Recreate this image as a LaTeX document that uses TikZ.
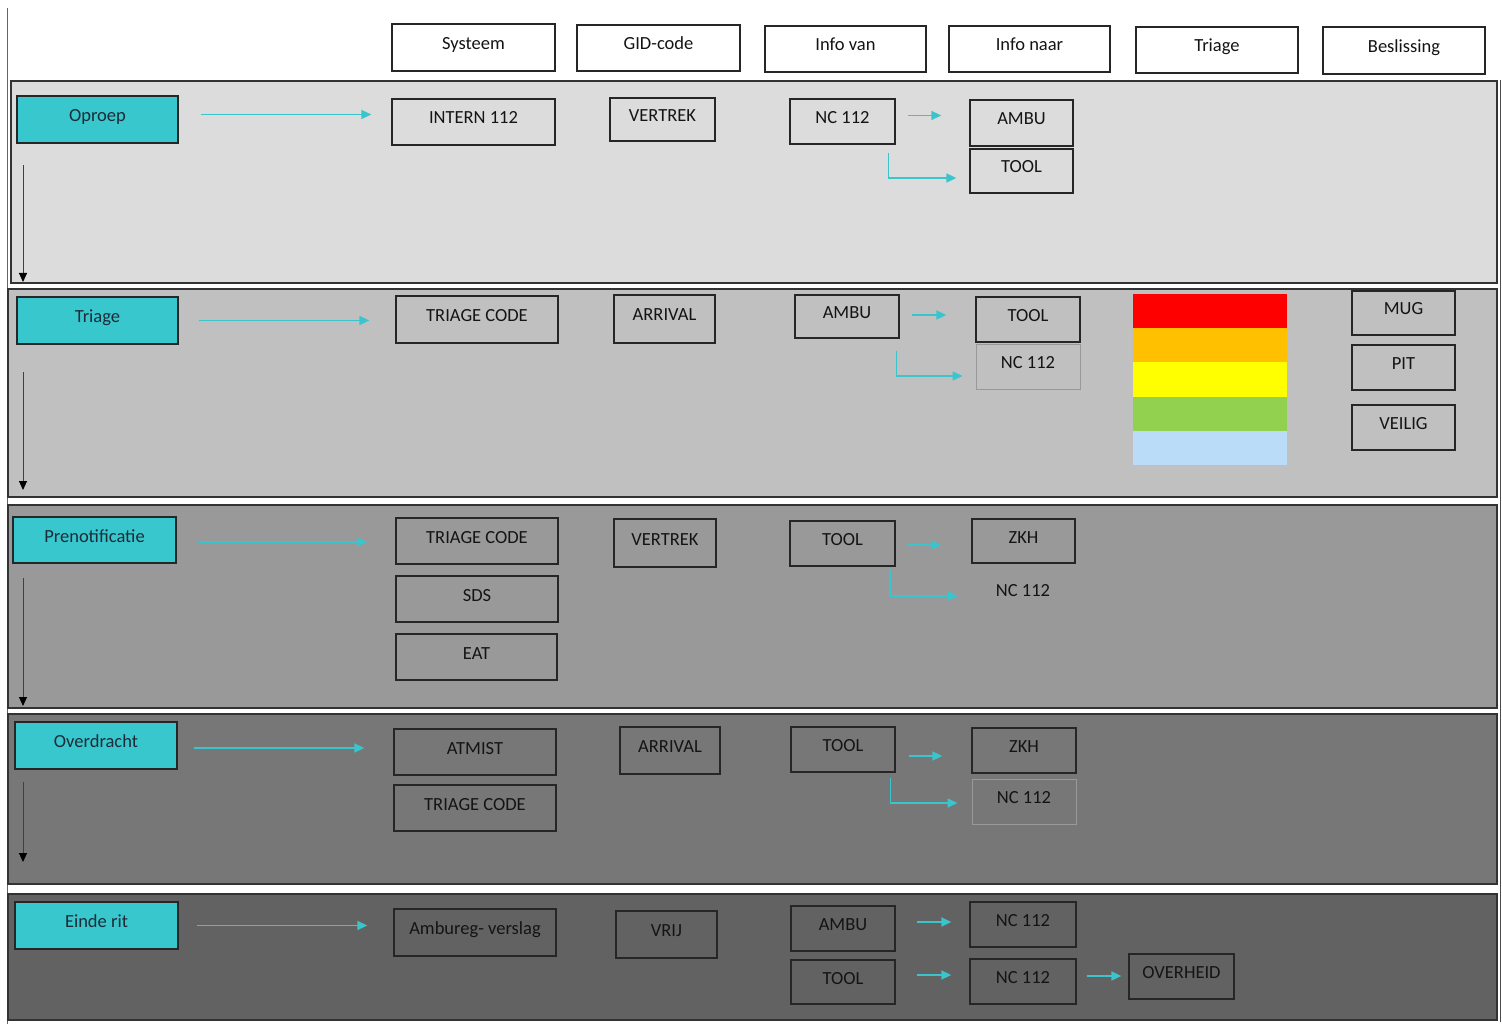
\documentclass[tikz,border=0pt]{standalone}
\usepackage{fontspec}
\setmainfont{Carlito}
\usetikzlibrary{arrows.meta,calc}
\definecolor{cyanbox}{HTML}{38C7CD}
\definecolor{cyarrow}{HTML}{3CC4CC}
\definecolor{phasetext}{HTML}{1E2B38}
\definecolor{bandA}{HTML}{DCDCDC}
\definecolor{bandB}{HTML}{C0C0C0}
\definecolor{bandC}{HTML}{999999}
\definecolor{bandD}{HTML}{777777}
\definecolor{bandE}{HTML}{626262}
\definecolor{tRed}{HTML}{FF0000}
\definecolor{tOrange}{HTML}{FFC000}
\definecolor{tYellow}{HTML}{FFFF00}
\definecolor{tGreen}{HTML}{92D050}
\definecolor{tBlue}{HTML}{BBDCF8}
\tikzset{
  labeltext/.style={font=\fontsize{18.5}{21}\selectfont,text=black!92,text height=11.5pt,text depth=7.5pt,inner sep=0pt},
  plainbox/.style={labeltext,draw=black!85,line width=1.3pt},
  headbox/.style={plainbox,fill=white},
  phasebox/.style={plainbox,fill=cyanbox,text=phasetext},
  faintbox/.style={plainbox,draw=black!40,line width=1pt},
  cy/.style={draw=cyarrow,line width=1.6pt,-{Triangle[length=10pt,width=9pt]}},
  downarr/.style={draw=black!75,line width=1pt,-{Triangle[length=9pt,width=8pt,color=black]}},
  band/.style={draw=black!80,line width=1.3pt},
}
\newcommand{\bx}[7][plainbox]{\node[#1,minimum width={(#5-#3)*1pt},minimum height={(#6-#4)*1pt}] (#2) at ({(#3+#5)/2},{(#4+#6)/2}) {#7};}
\begin{document}
\begin{tikzpicture}[x=1pt,y=-1pt]
\useasboundingbox (0,0) rectangle (1502,1024);
\fill[white] (0,0) rectangle (1502,1024);
% frame lines
\draw[black!60,line width=0.8pt] (7,8) -- (7,1024);
\draw[black!70,line width=1pt] (1500.5,80) -- (1500.5,1022);
% bands
\filldraw[band,fill=bandA] (11,81) rectangle (1497,283);
\filldraw[band,fill=bandB] (8,289) rectangle (1497,497);
\filldraw[band,fill=bandC] (8,505) rectangle (1497,708);
\filldraw[band,fill=bandD] (8,714) rectangle (1497,884);
\filldraw[band,fill=bandE] (8,894) rectangle (1497,1020);

% header
\bx[headbox]{hSys}{392}{24}{555}{71}{Systeem}
\bx[headbox]{hGid}{577}{25}{740}{71}{GID-code}
\bx[headbox]{hVan}{765}{26}{926}{72}{Info van}
\bx[headbox]{hNaar}{949}{26}{1110}{72}{Info naar}
\bx[headbox]{hTri}{1136}{27}{1298}{73}{Triage}
\bx[headbox]{hBes}{1323}{27}{1485}{74}{Beslissing}

% band 1
\bx[phasebox]{p1}{17}{96}{178}{143}{Oproep}
\bx{a1}{392}{99}{555}{145}{INTERN 112}
\bx{b1}{610}{98}{715}{141}{VERTREK}
\bx{c1}{790}{99}{895}{144}{NC 112}
\bx{d1}{970}{100}{1073}{146}{AMBU}
\bx{e1}{970}{149}{1073}{193}{TOOL}
\draw[cy] ($(p1.east)+(22,-5)$) -- ($(a1.west |- p1.east)+(-20,-5)$);
\draw[cy] ($(c1.east)+(12,-6)$) -- ($(d1.west |- c1.east)+(-28,-6)$);
\draw[cy] ($(c1.south east)+(-7,8)$) |- ($(e1.west)+(-13,7)$);
\coordinate (s1) at (23,165); \coordinate (t1) at (23,282);
\draw[downarr] (s1) -- (t1);

% band 2
\bx[phasebox]{p2}{17}{297}{178}{344}{Triage}
\bx{a2}{396}{296}{558}{343}{TRIAGE CODE}
\bx{b2}{614}{295}{715}{343}{ARRIVAL}
\bx{c2}{795}{295}{899}{338}{AMBU}
\bx{d2}{976}{297}{1080}{342}{TOOL}
\bx[faintbox]{e2}{976}{344}{1080}{389}{NC 112}
\fill[tRed] (1133,294) rectangle (1287,328);
\fill[tOrange] (1133,328) rectangle (1287,362);
\fill[tYellow] (1133,362) rectangle (1287,397);
\fill[tGreen] (1133,397) rectangle (1287,431);
\fill[tBlue] (1133,431) rectangle (1287,465);
\bx{m2}{1352}{291}{1455}{335}{MUG}
\bx{n2}{1352}{345}{1455}{390}{PIT}
\bx{o2}{1352}{405}{1455}{450}{VEILIG}
\draw[cy] ($(p2.east)+(20,0)$) -- ($(a2.west |- p2.east)+(-26,0)$);
\draw[cy] ($(c2.east)+(12,-1.5)$) -- ($(d2.west |- c2.east)+(-29,-1.5)$);
\draw[cy] ($(c2.south east)+(-3,12)$) |- ($(e2.west)+(-13,9.5)$);
\coordinate (s2) at (23,372); \coordinate (t2) at (23,490);
\draw[downarr] (s2) -- (t2);

% band 3
\bx[phasebox]{p3}{13}{517}{176}{563}{Prenotificatie}
\bx{a3}{396}{518}{558}{564}{TRIAGE CODE}
\bx{f3}{396}{576}{558}{622}{SDS}
\bx{g3}{396}{634}{557}{680}{EAT}
\bx{b3}{614}{519}{716}{567}{VERTREK}
\bx{c3}{790}{521}{895}{566}{TOOL}
\bx{d3}{972}{519}{1075}{563}{ZKH}
\node[labeltext] (e3) at (1023,594) {NC 112};
\coordinate (k3) at (890,570);
\coordinate (m3) at (958,596);
\draw[cy,line width=1.2pt] ($(p3.east)+(21,2)$) -- ($(a3.west |- p3.east)+(-28,2)$);
\draw[cy] ($(c3.east)+(12,1.5)$) -- ($(d3.west |- c3.east)+(-30,1.5)$);
\draw[cy] (k3) |- (m3);
\coordinate (s3) at (23,578); \coordinate (t3) at (23,706);
\draw[downarr] (s3) -- (t3);

% band 4
\bx[phasebox]{p4}{15}{722}{177}{769}{Overdracht}
\bx{a4}{394}{729}{556}{775}{ATMIST}
\bx{f4}{394}{785}{556}{831}{TRIAGE CODE}
\bx{b4}{620}{727}{720}{774}{ARRIVAL}
\bx{c4}{791}{727}{895}{772}{TOOL}
\bx{d4}{972}{728}{1076}{773}{ZKH}
\bx[faintbox]{e4}{972}{779}{1076}{824}{NC 112}
\draw[cy] ($(p4.east)+(16,2.5)$) -- ($(a4.west |- p4.east)+(-29,2.5)$);
\draw[cy] ($(c4.east)+(13,6.5)$) -- ($(d4.west |- c4.east)+(-29,6.5)$);
\draw[cy] ($(c4.south east)+(-5,5)$) |- ($(e4.west)+(-14,1.5)$);
\coordinate (s4) at (23,782); \coordinate (t4) at (23,862);
\draw[downarr] (s4) -- (t4);

% band 5
\bx[phasebox]{p5}{15}{902}{178}{949}{Einde rit}
\bx{a5}{394}{909}{556}{956}{Ambureg- verslag}
\bx{b5}{616}{911}{717}{958}{VRIJ}
\bx{c5}{791}{906}{895}{951}{AMBU}
\bx{g5}{791}{960}{895}{1004}{TOOL}
\bx{d5}{970}{902}{1076}{947}{NC 112}
\bx{e5}{970}{959}{1076}{1004}{NC 112}
\bx{h5}{1129}{954}{1234}{999}{OVERHEID}
\draw[cy] ($(p5.east)+(18,0)$) -- ($(a5.west |- p5.east)+(-26,0)$);
\draw[cy] ($(c5.east)+(21,-6.5)$) -- ($(d5.west |- c5.east)+(-18,-6.5)$);
\draw[cy] ($(g5.east)+(21,-7)$) -- ($(e5.west |- g5.east)+(-18,-7)$);
\draw[cy] ($(e5.east)+(10,-5.5)$) -- ($(h5.west |- e5.east)+(-7,-5.5)$);
\end{tikzpicture}
\end{document}
